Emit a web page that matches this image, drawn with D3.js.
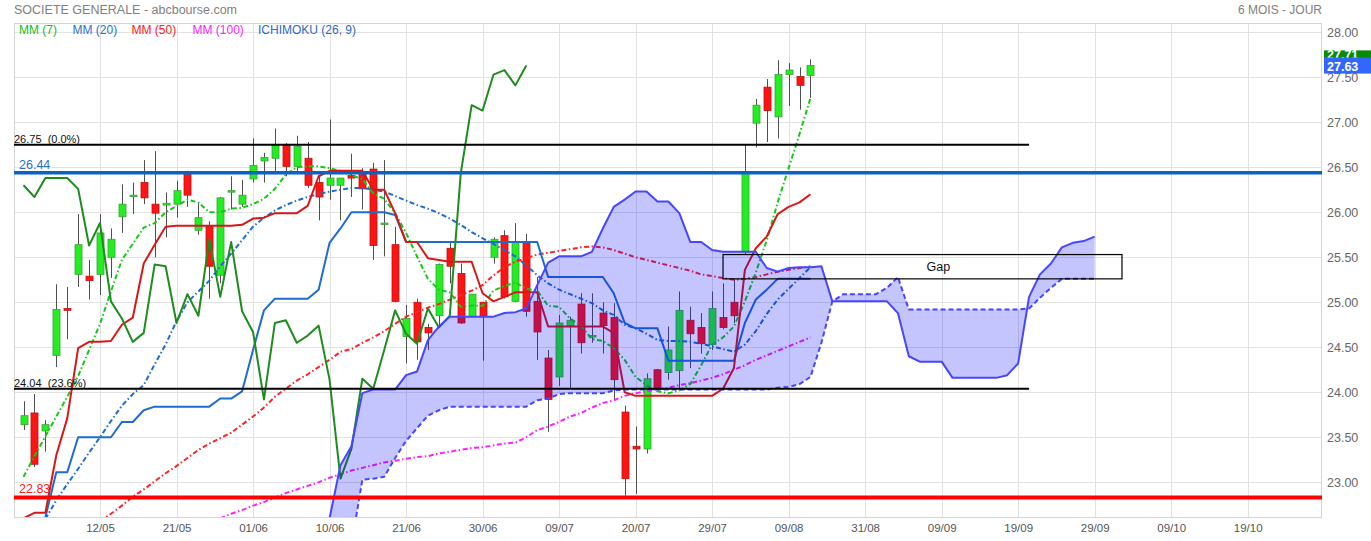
<!DOCTYPE html>
<html><head><meta charset="utf-8">
<script src="https://cdn.jsdelivr.net/npm/d3@7/dist/d3.min.js"></script>
<style>
body{margin:0;background:#fff;}
svg{display:block;font-family:"Liberation Sans",Arial,sans-serif;}
</style></head><body>
<svg id="c" width="1371" height="541"></svg>
<script>
// ---------- DATA ----------
const title = "SOCIETE GENERALE - abcbourse.com";
const period = "6 MOIS - JOUR";
const xTickIndex = [7,14,21,28,35,42,49,56,63,70,77,84,91,98,105,112];
const xTickLabels = ["12/05","21/05","01/06","10/06","21/06","30/06","09/07","20/07","29/07","09/08","31/08","09/09","19/09","29/09","09/10","19/10"];
const yTicks = [23,23.5,24,24.5,25,25.5,26,26.5,27,27.5,28];

const opens = [23.64,23.77,23.57,24.41,24.93,25.31,25.29,25.31,25.50,25.95,
26.18,26.33,26.09,26.08,26.09,26.42,25.80,25.85,25.30,26.23,
26.09,26.37,26.57,26.60,26.74,26.51,26.60,26.33,26.30,26.30,
26.41,26.45,26.48,25.87,25.64,24.62,25.00,24.72,24.85,25.60,
25.32,24.84,25.00,25.50,25.74,25.01,25.67,25.01,24.38,24.17,
24.74,24.98,24.62,24.88,24.83,23.78,23.40,23.37,24.25,24.22,
24.24,24.80,24.72,24.53,24.83,25.00,25.56,26.99,27.39,27.06,
27.53,27.51,27.52];
const highs = [23.90,23.98,23.69,25.20,25.17,25.98,25.47,25.98,25.82,26.31,
26.33,26.58,26.68,26.22,26.35,26.46,26.10,25.90,26.17,26.40,
26.36,26.82,26.66,26.93,26.77,26.85,26.78,26.40,27.03,26.38,
26.65,26.49,26.55,26.58,25.84,24.97,25.04,24.76,25.43,25.66,
25.43,25.09,25.00,25.72,25.80,25.88,25.76,25.28,24.47,24.86,
24.84,25.10,25.10,25.00,24.99,23.85,23.62,24.21,24.26,24.73,
25.12,24.95,24.88,25.12,25.21,25.26,26.75,27.26,27.48,27.69,
27.66,27.61,27.70];
const lows = [23.58,23.17,23.34,24.28,24.59,25.17,25.03,25.08,25.27,25.77,
25.98,26.09,25.50,25.72,25.94,26.06,25.75,25.04,25.21,26.03,
26.06,26.33,26.33,26.45,26.40,26.45,26.27,25.91,26.14,25.91,
26.17,26.03,25.47,25.51,25.00,24.32,24.36,24.47,24.73,25.21,
24.76,24.84,24.35,25.43,25.04,25.00,24.84,24.36,23.56,24.07,
24.04,24.43,24.55,24.43,23.91,22.85,22.87,23.32,24.03,24.14,
24.04,24.27,24.43,24.47,24.70,24.77,25.53,26.72,26.78,26.82,
27.18,27.14,27.27];
const closes = [23.74,23.20,23.64,24.92,24.91,25.64,25.24,25.77,25.70,26.09,
26.19,26.16,25.99,26.10,26.24,26.19,25.94,25.40,26.16,26.24,
26.19,26.52,26.61,26.74,26.51,26.73,26.30,26.17,26.38,26.38,
26.38,26.26,25.63,25.88,25.01,24.82,24.56,24.66,25.42,25.40,
24.77,25.09,24.85,25.70,25.06,25.67,24.90,24.67,23.92,24.77,
24.80,24.55,24.63,24.74,24.14,23.04,23.37,24.15,24.04,24.47,
24.91,24.65,24.54,24.93,24.72,24.85,26.43,27.19,27.13,27.53,
27.58,27.41,27.63];

const mm7 = [23.06,23.29,23.51,23.73,23.95,24.18,24.47,24.76,25.12,25.47,
25.65,25.83,25.88,26.00,26.07,26.14,26.11,26.00,26.00,26.04,
26.05,26.09,26.15,26.26,26.42,26.50,26.51,26.51,26.49,26.46,
26.41,26.37,26.21,26.15,25.99,25.77,25.51,25.26,25.14,25.11,
24.95,24.96,24.96,25.13,25.18,25.22,25.15,25.13,24.96,24.95,
24.82,24.74,24.59,24.57,24.49,24.36,24.17,24.08,24.01,23.99,
24.02,24.09,24.30,24.53,24.61,24.73,25.01,25.33,25.69,26.11,
26.49,26.87,27.27];
const mm20 = [null,null,22.59,22.80,22.98,23.15,23.33,23.50,23.68,23.85,
23.98,24.08,24.31,24.53,24.79,25.00,25.12,25.24,25.40,25.54,
25.69,25.84,25.94,26.02,26.08,26.13,26.17,26.20,26.23,26.25,
26.27,26.27,26.25,26.23,26.18,26.13,26.08,26.04,25.99,25.93,
25.86,25.78,25.71,25.65,25.58,25.51,25.41,25.30,25.21,25.14,
25.09,25.04,24.99,24.91,24.86,24.75,24.71,24.65,24.58,24.57,
24.57,24.56,24.54,24.51,24.48,24.45,24.53,24.68,24.87,25.03,
25.15,25.27,25.39];
const mm50 = [null,null,null,null,null,null,null,22.57,22.65,22.74,
22.84,22.92,23.01,23.10,23.18,23.27,23.36,23.43,23.49,23.55,
23.64,23.73,23.83,23.95,24.04,24.13,24.20,24.28,24.36,24.45,
24.48,24.55,24.61,24.68,24.76,24.84,24.89,24.94,24.98,25.03,
25.08,25.13,25.19,25.30,25.39,25.45,25.49,25.53,25.55,25.57,
25.59,25.61,25.62,25.61,25.58,25.54,25.50,25.47,25.44,25.41,
25.38,25.35,25.31,25.29,25.27,25.25,25.26,25.28,25.31,25.34,
25.36,25.38,25.40];
const mm100 = [null,null,null,null,null,null,null,null,null,null,
null,null,null,null,null,null,null,22.56,22.60,22.65,
22.69,22.74,22.78,22.83,22.88,22.92,22.96,23.00,23.05,23.09,
23.13,23.16,23.19,23.22,23.24,23.26,23.28,23.29,23.32,23.34,
23.36,23.38,23.39,23.41,23.43,23.44,23.50,23.58,23.62,23.67,
23.73,23.77,23.83,23.88,23.91,23.96,23.99,24.01,24.03,24.05,
24.08,24.10,24.13,24.16,24.20,24.25,24.30,24.36,24.41,24.46,
24.51,24.56,24.61];

// Ichimoku (26, 9)
const tenkan = [22.60,22.66,22.66,23.30,23.71,24.49,24.56,24.56,24.57,24.75,
24.83,25.43,25.64,25.84,25.85,25.85,25.85,25.85,25.85,25.85,
25.86,25.93,25.94,25.99,25.99,25.99,26.07,26.40,26.46,26.46,
26.46,26.46,26.25,26.25,25.99,25.67,25.67,25.49,25.47,25.45,
25.45,25.45,25.10,25.01,25.06,25.11,25.11,25.11,24.73,24.73,
24.73,24.73,24.73,24.73,24.66,24.00,23.96,23.96,23.96,23.96,
23.96,23.96,23.96,23.96,24.04,24.27,25.36,25.60,25.73,25.98,
26.06,26.11,26.20];
const kijun = [22.50,22.50,22.61,23.11,23.11,23.50,23.50,23.50,23.50,23.67,
23.67,23.80,23.84,23.84,23.84,23.84,23.84,23.84,23.93,23.93,
24.01,24.47,24.91,25.04,25.04,25.04,25.04,25.14,25.66,25.82,
26.00,26.00,26.00,26.00,25.97,25.67,25.67,25.67,25.67,25.67,
25.67,25.67,25.67,25.67,25.67,25.67,25.67,25.67,25.28,25.28,
25.28,25.28,25.28,25.28,25.10,24.77,24.71,24.71,24.71,24.35,
24.35,24.35,24.35,24.35,24.35,24.35,24.77,25.03,25.14,25.26,
25.26,25.26,25.26];
const senkouStart = 26;
const senkouA = [22.40,22.55,22.60,23.19,23.40,23.99,24.03,24.03,24.03,24.19,
24.23,24.58,24.73,24.84,24.84,24.84,24.84,24.84,24.88,24.89,
24.93,25.19,25.44,25.51,25.51,25.51,25.56,25.82,26.06,26.14,
26.23,26.23,26.12,26.12,25.99,25.67,25.67,25.58,25.56,25.56,
25.56,25.56,25.38,25.34,25.38,25.39,25.39,25.40,25.01,25.01,
25.01,25.01,25.01,25.01,24.88,24.40,24.34,24.34,24.34,24.16,
24.16,24.16,24.16,24.16,24.19,24.32,25.06,25.31,25.43,25.61,
25.66,25.68,25.73];
const senkouB = [null,null,22.00,22.10,22.30,23.03,23.04,23.06,23.27,23.46,
23.60,23.74,23.80,23.84,23.84,23.84,23.84,23.84,23.84,23.84,
23.84,23.91,23.93,23.98,23.99,23.99,23.99,23.99,24.02,24.03,
24.03,24.03,24.03,24.03,24.03,24.03,24.03,24.03,24.03,24.03,
24.03,24.03,24.03,24.05,24.06,24.09,24.17,24.55,25.01,25.09,
25.09,25.09,25.09,25.16,25.28,24.92,24.92,24.92,24.92,24.92,
24.92,24.92,24.92,24.92,24.92,24.92,24.93,25.05,25.16,25.26,
25.26,25.26,25.26];
const chikouShift = 26;

const fibLevels = [26.75, 24.04];
const fibLabels = ["26.75  (0.0%)", "24.04  (23.6%)"];
const fibEndIndex = 92;
const supportLevel = 22.83, resistanceLevel = 26.44;
const gapLow = 25.26, gapHigh = 25.53, gapFrom = 64, gapTo = 100.5, gapLabelAt = 83.7;
const lastPrice = 27.71, lastTag = 27.63;
const legendNames = ["MM (7)","MM (20)","MM (50)","MM (100)","ICHIMOKU (26, 9)"];

// ---------- LAYOUT ----------
const L=14, R=1322, T=23, B=517, WIDTH=1371;
const svg = d3.select("#c");
const x = d3.scaleLinear().domain([-0.87,118.8]).range([L,R]);
const y = d3.scaleLinear().domain([22.614,28.114]).range([B,22]);

// header
svg.append("text").attr("x",14).attr("y",13.5).attr("fill","#808080").attr("font-size",12.5).text(title);
svg.append("text").attr("x",R).attr("y",13.5).attr("text-anchor","end").attr("fill","#808080").attr("font-size",12).text(period);

// grid
svg.append("g").attr("transform",`translate(${L},0)`)
  .call(d3.axisRight(y).tickValues(yTicks).tickSize(R-L).tickFormat(""))
  .call(g=>{g.select(".domain").remove(); g.selectAll("line").attr("stroke","#e2e2e2").attr("shape-rendering","crispEdges");});
svg.append("g").attr("transform",`translate(0,${T})`)
  .call(d3.axisBottom(x).tickValues(xTickIndex).tickSize(B-T).tickFormat(""))
  .call(g=>{g.select(".domain").remove(); g.selectAll("line").attr("stroke","#e2e2e2").attr("shape-rendering","crispEdges");});

// frame
svg.append("rect").attr("x",L+0.5).attr("y",T+0.5).attr("width",R-L-1).attr("height",B-T)
  .attr("fill","none").attr("stroke","#d4d4d4");

// axes labels
const yAx = svg.append("g").attr("transform",`translate(${R},0)`)
  .call(d3.axisRight(y).tickValues(yTicks).tickSize(0).tickPadding(5).tickFormat(d3.format(".2f")));
yAx.select(".domain").remove();
yAx.selectAll("text").attr("fill","#666").attr("font-size",12.5).attr("font-family","Liberation Sans, Arial");
const xAx = svg.append("g").attr("transform",`translate(0,${B})`)
  .call(d3.axisBottom(x).tickValues(xTickIndex).tickSize(0).tickPadding(7).tickFormat((d,i)=>xTickLabels[i]));
xAx.select(".domain").remove();
xAx.selectAll("text").attr("fill","#555").attr("font-size",11.5).attr("font-family","Liberation Sans, Arial");

// clip
svg.append("clipPath").attr("id","clip").append("rect").attr("x",L).attr("y",T).attr("width",R-L).attr("height",B-T);
const plot = svg.append("g").attr("clip-path","url(#clip)");

// legend
const legendColors = ["#12c012","#2a72c8","#ff2020","#ff22ff","#2a6cc8"];
const legendX = [19,72.5,131.5,192.5,258];
legendNames.forEach((n,i)=>{
  svg.append("text").attr("x",legendX[i]).attr("y",33.5).attr("font-size",12).attr("fill",legendColors[i]).text(n);
});

// candles
const idx = d3.range(closes.length);
const cg = plot.append("g");
cg.selectAll("line.wick").data(idx).join("line")
  .attr("x1",i=>Math.round(x(i))+0.5).attr("x2",i=>Math.round(x(i))+0.5)
  .attr("y1",i=>y(highs[i])).attr("y2",i=>y(lows[i]))
  .attr("stroke","#505050").attr("stroke-width",1);
cg.selectAll("rect.body").data(idx).join("rect")
  .attr("x",i=>Math.round(x(i))-3).attr("width",7)
  .attr("y",i=>y(Math.max(opens[i],closes[i])))
  .attr("height",i=>Math.max(1.5,Math.abs(y(opens[i])-y(closes[i]))))
  .attr("fill",i=>closes[i]>=opens[i]?"#22ee22":"#ff1414")
  .attr("stroke",i=>closes[i]>=opens[i]?"#3aa03a":"#c01010")
  .attr("stroke-width",0.8);

// lines
const line = d3.line().defined(d=>d.v!=null).x(d=>x(d.i)).y(d=>y(d.v));
const series = (arr,start=0)=>arr.map((v,k)=>({i:k+start,v}));
function drawLine(arr,color,width,dash,start=0){
  plot.append("path").datum(series(arr,start)).attr("d",line)
    .attr("fill","none").attr("stroke",color).attr("stroke-width",width)
    .attr("stroke-dasharray",dash||null).attr("stroke-linejoin","round");
}
const dd = "5,2.5,1.5,2.5";
drawLine(mm100,"#ff22ff",2,dd);
drawLine(mm50,"#ff2424",2,dd);
drawLine(mm20,"#1f6cd0",2,dd);
drawLine(mm7,"#14c814",2,dd);
drawLine(kijun,"#1f6cd0",2);
drawLine(tenkan,"#d81818",2);
drawLine(closes.slice(chikouShift),"#1e8c1e",2);

// cloud
const cloud = senkouA.map((a,k)=>({i:k+senkouStart,a,b:senkouB[k]}));
plot.append("path").datum(cloud.filter(d=>d.b!=null))
  .attr("d",d3.area().x(d=>x(d.i)).y0(d=>y(d.b)).y1(d=>y(d.a)))
  .attr("fill","rgba(0,0,255,0.23)");
drawLine(senkouA,"#4646ff",2,null,senkouStart);
drawLine(senkouB,"#4646ff",2,"5,3",senkouStart);

// horizontal levels
fibLevels.forEach((v,k)=>{
  plot.append("line").attr("x1",L).attr("x2",x(fibEndIndex)).attr("y1",y(v)).attr("y2",y(v))
    .attr("stroke","#000").attr("stroke-width",2);
  svg.append("text").attr("x",L).attr("y",y(v)-2).attr("font-size",11).attr("fill","#111")
    .style("white-space","pre").text(fibLabels[k]);
});
plot.append("line").attr("x1",L).attr("x2",R).attr("y1",y(resistanceLevel)).attr("y2",y(resistanceLevel))
  .attr("stroke","#0a62c4").attr("stroke-width",3.5);
svg.append("text").attr("x",19).attr("y",y(resistanceLevel)-3.5).attr("font-size",12.5).attr("fill","#2a72c8").text(resistanceLevel.toFixed(2));
plot.append("line").attr("x1",L).attr("x2",R).attr("y1",y(supportLevel)).attr("y2",y(supportLevel))
  .attr("stroke","#ff0000").attr("stroke-width",4);
svg.append("text").attr("x",19).attr("y",y(supportLevel)-4.5).attr("font-size",12.5).attr("fill","#ff2020").text(supportLevel.toFixed(2));

// gap box
plot.append("rect").attr("x",x(gapFrom)).attr("y",y(gapHigh)).attr("width",x(gapTo)-x(gapFrom)).attr("height",y(gapLow)-y(gapHigh))
  .attr("fill","none").attr("stroke","#000").attr("stroke-width",1.2);
svg.append("text").attr("x",x(gapLabelAt)).attr("y",(y(gapHigh)+y(gapLow))/2+4.5)
  .attr("text-anchor","middle").attr("font-size",12.5).attr("fill","#111").text("Gap");

// price tags (the last-price tag is partly covered by the second tag, as in the source)
svg.append("rect").attr("x",R+2).attr("y",y(lastPrice)-8).attr("width",WIDTH-R-2).attr("height",16).attr("fill","#0a8a0a");
svg.append("text").attr("x",R+5).attr("y",y(lastPrice)+1).attr("font-size",12.5).attr("font-weight","bold").attr("fill","#fff").text(lastPrice.toFixed(2));
svg.append("rect").attr("x",R+2).attr("y",y(lastTag)-8).attr("width",WIDTH-R-2).attr("height",16).attr("fill","#3366ff");
svg.append("text").attr("x",R+5).attr("y",y(lastTag)+5).attr("font-size",12.5).attr("font-weight","bold").attr("fill","#fff").text(lastTag.toFixed(2));
</script>
</body></html>
